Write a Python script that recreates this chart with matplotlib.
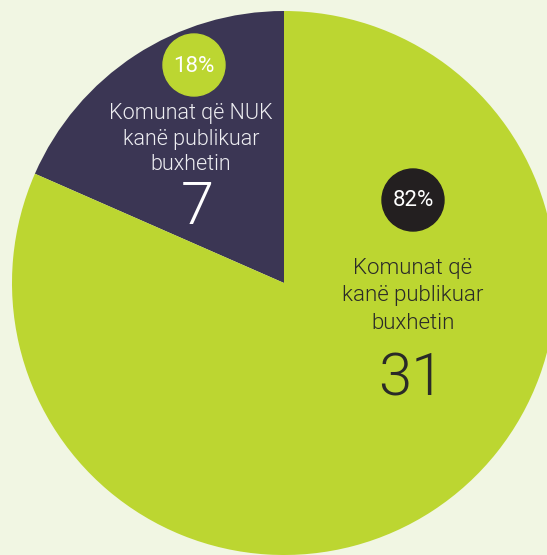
import matplotlib
matplotlib.use("Agg")
import matplotlib.pyplot as plt
from matplotlib.patches import Circle

# Data
labels = ["Komunat që NUK\nkanë publikuar\nbuxhetin", "Komunat që\nkanë publikuar\nbuxhetin"]
counts = [7, 31]
percents = ["18%", "82%"]

BG = "#F1F6E3"
GREEN = "#BCD631"
DARK = "#3B3654"
BLACK = "#231F20"

W, H = 547, 555
fig = plt.figure(figsize=(W / 100, H / 100), dpi=100, facecolor=BG)
ax = fig.add_axes([0, 0, 1, 1])
ax.set_facecolor(BG)

fam = ["Roboto", "DejaVu Sans"]

cx, cy, r = 284, 283, 272
ax.pie(counts, colors=[DARK, GREEN], startangle=-90, counterclock=False,
       center=(cx, cy), radius=r, frame=True,
       wedgeprops=dict(linewidth=0))
ax.set_xlim(0, W)
ax.set_ylim(H, 0)
ax.set_aspect("equal")
ax.axis("off")

# Dark slice annotations
ax.add_patch(Circle((194, 65), 31, color=GREEN, zorder=3))
ax.text(194, 66, percents[0], color="white", fontsize=16, ha="center", va="center",
        family=fam, fontweight="normal", zorder=4)
ax.text(191, 139, labels[0], color="#EEEEF2", fontsize=15.5, ha="center", va="center",
        linespacing=1.28, family=fam, fontweight=300, zorder=4)
ax.text(197, 208, str(counts[0]), color="white", fontsize=43, ha="center", va="center",
        family=fam, fontweight=300, zorder=4)

# Green slice annotations
ax.add_patch(Circle((413, 200), 31, color=BLACK, zorder=3))
ax.text(413, 201, percents[1], color="white", fontsize=16, ha="center", va="center",
        family=fam, fontweight="normal", zorder=4)
ax.text(413, 296, labels[1], color="#2A2A28", fontsize=16, ha="center", va="center",
        linespacing=1.4, family=fam, fontweight=300, zorder=4)
ax.text(411, 379, str(counts[1]), color="#2A2A28", fontsize=43, ha="center", va="center",
        family=fam, fontweight=300, zorder=4)

fig.savefig("out.png", dpi=100, facecolor=BG)
